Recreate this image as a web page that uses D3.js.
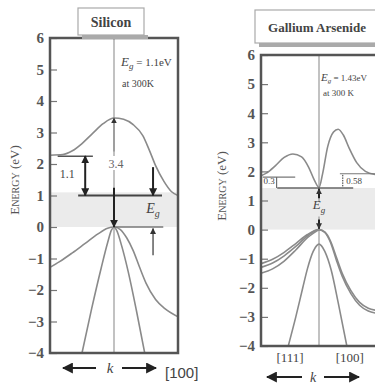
<!DOCTYPE html>
<html><head><meta charset="utf-8">
<script src="https://cdn.jsdelivr.net/npm/d3@7"></script>
<style>body{margin:0;background:#fff}svg{display:block}</style>
</head><body>
<svg id="c" width="375" height="385"></svg>
<script>
// ---------- data ----------
const energyTicks = [6,5,4,3,2,1,0,-1,-2,-3,-4];
const panelTitles = ["Silicon", "Gallium Arsenide"];
const siEg = 1.1, gaEg = 1.43;
const siConduction = [[-1,2.28],[-0.8,2.3],[-0.65,2.42],[-0.5,2.65],[-0.33,2.98],[-0.17,3.28],[0,3.46],[0.15,3.42],[0.3,3.25],[0.45,2.9],[0.55,2.45],[0.65,1.95],[0.78,1.45],[0.9,1.12],[1,1.0]];
const siHeavyHole = [[-1,-1.28],[-0.85,-1.1],[-0.65,-0.82],[-0.45,-0.52],[-0.25,-0.22],[-0.1,-0.04],[0,0],[0.1,-0.08],[0.2,-0.35],[0.3,-0.75],[0.4,-1.28],[0.5,-1.78],[0.65,-2.3],[0.8,-2.6],[1,-2.85]];
const siLightHole = [[-0.5,-4],[-0.35,-2.6],[-0.2,-1.3],[-0.1,-0.5],[-0.04,-0.1],[0,0],[0.04,-0.1],[0.12,-0.6],[0.22,-1.4],[0.35,-2.65],[0.48,-4]];
const gaConduction = [[-1,1.85],[-0.9,1.95],[-0.75,2.2],[-0.6,2.48],[-0.45,2.6],[-0.3,2.5],[-0.18,2.15],[-0.08,1.7],[0,1.45],[0.06,1.9],[0.15,2.85],[0.25,3.35],[0.33,3.45],[0.42,3.25],[0.52,2.8],[0.65,2.3],[0.8,2.0],[1,1.88]];
const gaHoleA = [[-1,-1.17],[-0.8,-1.02],[-0.6,-0.78],[-0.4,-0.48],[-0.2,-0.17],[0,0],[0.1,-0.08],[0.2,-0.4],[0.3,-0.95],[0.4,-1.5],[0.55,-2.1],[0.7,-2.5],[0.85,-2.7],[1,-2.78]];
const gaHoleB = [[-1,-1.3],[-0.8,-1.15],[-0.6,-0.9],[-0.4,-0.58],[-0.2,-0.22],[0,0],[0.1,-0.1],[0.2,-0.45],[0.3,-1.05],[0.4,-1.6],[0.55,-2.2],[0.7,-2.6],[0.85,-2.8],[1,-2.88]];
const gaHoleC = [[-1,-1.5],[-0.8,-1.35],[-0.6,-1.08],[-0.4,-0.7],[-0.2,-0.28],[0,0]];
const gaSplitOff = [[-0.53,-4],[-0.4,-3.0],[-0.28,-2.0],[-0.2,-1.35],[-0.1,-0.75],[-0.04,-0.55],[0,-0.5],[0.04,-0.55],[0.1,-0.75],[0.21,-1.39],[0.33,-2.5],[0.48,-4]];
const gaDirections = ["[111]", "[100]"];

// ---------- setup ----------
const svg = d3.select("#c");
const defs = svg.append("defs");
function marker(id, size, color){
  defs.append("marker").attr("id", id).attr("viewBox","0 0 10 10").attr("refX",9).attr("refY",5)
    .attr("markerWidth",size).attr("markerHeight",size).attr("markerUnits","userSpaceOnUse")
    .attr("orient","auto-start-reverse")
    .append("path").attr("d","M0,0L10,5L0,10Z").attr("fill",color);
}
marker("ah", 8, "#222");
marker("ahs", 6, "#333");
marker("ahk", 11, "#222");

const serif = "'Liberation Serif','DejaVu Serif',serif";
const curveGray = "#8a8a8a";
const textGray = "#444";

function panel(cfg){
  const x = d3.scaleLinear().domain([-1,1]).range(cfg.xr);
  const y = d3.scaleLinear().domain([-4,6]).range(cfg.yr);
  const g = svg.append("g");
  const clipId = "clip" + cfg.id;
  defs.append("clipPath").attr("id", clipId).append("rect")
    .attr("x", cfg.xr[0]).attr("y", cfg.yr[1]).attr("width", cfg.xr[1]-cfg.xr[0]).attr("height", cfg.yr[0]-cfg.yr[1]);
  g.append("rect").attr("x", cfg.xr[0]).attr("width", cfg.xr[1]-cfg.xr[0])
    .attr("y", y(cfg.eg)).attr("height", y(0)-y(cfg.eg)).attr("fill","#ebebeb");
  g.append("line").attr("x1", x(0)).attr("x2", x(0)).attr("y1", cfg.yr[1]).attr("y2", cfg.yr[0])
    .attr("stroke","#999").attr("stroke-width",1.2);
  const line = d3.line().x(d=>x(d[0])).y(d=>y(d[1])).curve(d3.curveMonotoneX);
  const cg = g.append("g").attr("clip-path", `url(#${clipId})`);
  cfg.curves.forEach(c => cg.append("path").attr("d", line(c)).attr("fill","none")
    .attr("stroke", curveGray).attr("stroke-width",1.6));
  const ax = d3.axisLeft(y).tickValues(energyTicks).tickSizeInner(-7).tickSizeOuter(0).tickPadding(6);
  const axg = g.append("g").attr("transform", `translate(${cfg.xr[0]},0)`).call(ax);
  axg.select(".domain").remove();
  axg.selectAll(".tick line").attr("stroke","#777").attr("stroke-width",1.2);
  axg.selectAll(".tick text").attr("font-family", serif).attr("font-size", 15).attr("font-weight","bold").attr("fill","#555");
  g.append("rect").attr("x", cfg.xr[0]).attr("y", cfg.yr[1]).attr("width", cfg.xr[1]-cfg.xr[0]).attr("height", cfg.yr[0]-cfg.yr[1])
    .attr("fill","none").attr("stroke","#555").attr("stroke-width",2.5);
  const yl = g.append("text").attr("transform", `translate(${cfg.ylx},${cfg.yly}) rotate(-90)`)
    .attr("text-anchor","middle").attr("font-family", serif).attr("fill","#555");
  yl.append("tspan").attr("font-size",13).text("E");
  yl.append("tspan").attr("font-size",10).text("NERGY");
  yl.append("tspan").attr("font-size",13).text(" (eV)");
  const t = cfg.title;
  g.append("rect").attr("x", t.x+4).attr("y", t.y+t.h).attr("width", t.w).attr("height", 4).attr("fill","#aaa");
  g.append("rect").attr("x", t.x).attr("y", t.y).attr("width", t.w).attr("height", t.h)
    .attr("fill","#fff").attr("stroke","#aaa").attr("stroke-width",1.2);
  g.append("text").attr("x", t.cx).attr("y", t.y + t.h/2 + 5).attr("text-anchor","middle")
    .attr("font-family", serif).attr("font-size", t.fs).attr("font-weight", t.fw).attr("fill", textGray).text(t.text);
  return {x, y, g};
}

// ---------- Silicon ----------
const si = panel({id:"si", xr:[50,178], yr:[353,38], eg:siEg,
  curves:[siConduction, siHeavyHole, siLightHole], ylx:19, yly:180,
  title:{x:78, y:8, w:66, h:27, cx:111, text:panelTitles[0], fs:14, fw:"bold"}});
{
  const {x, y, g} = si;
  const dark = "#222";
  g.append("line").attr("x1", x(-0.56)).attr("x2", x(0.75)).attr("y1", y(1.0)).attr("y2", y(1.0)).attr("stroke", "#444").attr("stroke-width", 2);
  g.append("line").attr("x1", x(-0.88)).attr("x2", x(-0.33)).attr("y1", y(2.25)).attr("y2", y(2.25)).attr("stroke", "#555").attr("stroke-width", 1.5);
  g.append("line").attr("x1", x(0)).attr("x2", x(0.77)).attr("y1", y(0)).attr("y2", y(0)).attr("stroke", "#777").attr("stroke-width", 1.5);
  g.append("line").attr("x1", x(-0.45)).attr("x2", x(-0.45)).attr("y1", y(1.0)).attr("y2", y(2.25))
    .attr("stroke", dark).attr("stroke-width", 2).attr("marker-start","url(#ah)").attr("marker-end","url(#ah)");
  g.append("text").attr("x", x(-0.73)).attr("y", y(1.55)).attr("text-anchor","middle").attr("font-family", serif).attr("font-size", 12).attr("fill", textGray).text("1.1");
  g.append("line").attr("x1", x(0)).attr("x2", x(0)).attr("y1", y(2.4)).attr("y2", y(3.46))
    .attr("stroke", "#888").attr("stroke-width", 1.2).attr("marker-end","url(#ahs)");
  g.append("rect").attr("x", x(0)-9).attr("y", y(2.0)-8).attr("width", 18).attr("height", 14).attr("fill","#fff");
  g.append("text").attr("x", x(0)+2).attr("y", y(2.0)+4).attr("text-anchor","middle").attr("font-family", serif).attr("font-size", 12).attr("fill","#666").text("3.4");
  g.append("line").attr("x1", x(0)).attr("x2", x(0)).attr("y1", y(1.25)).attr("y2", y(0))
    .attr("stroke", dark).attr("stroke-width", 2).attr("marker-end","url(#ah)");
  g.append("line").attr("x1", x(0.61)).attr("x2", x(0.61)).attr("y1", y(1.9)).attr("y2", y(1.0))
    .attr("stroke", dark).attr("stroke-width", 2).attr("marker-end","url(#ah)");
  g.append("line").attr("x1", x(0.61)).attr("x2", x(0.61)).attr("y1", y(-0.9)).attr("y2", y(-0.05))
    .attr("stroke", "#444").attr("stroke-width", 1.3).attr("marker-end","url(#ahs)");
  const eg = g.append("text").attr("x", x(0.61)).attr("y", y(0.45)).attr("text-anchor","middle").attr("font-family", serif).attr("font-style","italic").attr("fill", textGray);
  eg.append("tspan").attr("font-size", 14).text("E");
  eg.append("tspan").attr("font-size", 10).attr("dy", 4).text("g");
  const t1 = g.append("text").attr("x", 121).attr("y", 66).attr("font-family", serif).attr("fill", textGray).attr("font-size", 11);
  t1.append("tspan").attr("font-style","italic").attr("font-size", 13).text("E");
  t1.append("tspan").attr("font-style","italic").attr("font-size", 9).attr("dy", 3).text("g");
  t1.append("tspan").attr("dy", -3).text(" = " + siEg + "eV");
  g.append("text").attr("x", 122).attr("y", 87).attr("font-family", serif).attr("font-size", 10).attr("fill", textGray).text("at 300K");
  const ky = 368;
  g.append("line").attr("x1", 96).attr("x2", 63).attr("y1", ky).attr("y2", ky).attr("stroke", dark).attr("stroke-width", 2).attr("marker-end","url(#ahk)");
  g.append("line").attr("x1", 122).attr("x2", 156).attr("y1", ky).attr("y2", ky).attr("stroke", dark).attr("stroke-width", 2).attr("marker-end","url(#ahk)");
  g.append("text").attr("x", 110).attr("y", ky+5).attr("text-anchor","middle").attr("font-family", serif).attr("font-style","italic").attr("font-size", 15).attr("fill", textGray).text("k");
  g.append("text").attr("x", 165).attr("y", 378).attr("font-family","'Liberation Sans',Arial,sans-serif").attr("font-size", 15).attr("fill", textGray).text("[100]");
}

// ---------- GaAs ----------
const ga = panel({id:"ga", xr:[261,377], yr:[346,55], eg:gaEg,
  curves:[gaConduction, gaHoleA, gaHoleB, gaHoleC, gaSplitOff], ylx:226, yly:186,
  title:{x:255, y:10, w:130, h:33, cx:317, text:panelTitles[1], fs:13, fw:"bold"}});
{
  const {x, y, g} = ga;
  const dark = "#222";
  g.append("line").attr("x1", x(-0.72)).attr("x2", x(0.59)).attr("y1", y(gaEg)).attr("y2", y(gaEg)).attr("stroke", "#666").attr("stroke-width", 1.3);
  g.append("line").attr("x1", x(-0.97)).attr("x2", x(-0.41)).attr("y1", y(1.8)).attr("y2", y(1.8)).attr("stroke", "#777").attr("stroke-width", 1.2);
  g.append("line").attr("x1", x(0.36)).attr("x2", x(1)).attr("y1", y(1.92)).attr("y2", y(1.92)).attr("stroke", "#777").attr("stroke-width", 1.2);
  g.append("line").attr("x1", x(-0.73)).attr("x2", x(-0.73)).attr("y1", y(1.8)).attr("y2", y(gaEg)).attr("stroke", "#555").attr("stroke-width", 1);
  g.append("text").attr("x", x(-0.86)).attr("y", y(1.55)).attr("text-anchor","middle").attr("font-family", serif).attr("font-size", 9).attr("fill", textGray).text("0.3");
  g.append("line").attr("x1", x(0.41)).attr("x2", x(0.41)).attr("y1", y(1.88)).attr("y2", y(1.47))
    .attr("stroke", "#333").attr("stroke-width", 1).attr("stroke-dasharray","1.5,1");
  g.append("text").attr("x", x(0.47)).attr("y", y(1.55)).attr("font-family", serif).attr("font-size", 9).attr("fill", textGray).text("0.58");
  g.append("line").attr("x1", x(0)).attr("x2", x(0)).attr("y1", y(1.08)).attr("y2", y(1.4))
    .attr("stroke", dark).attr("stroke-width", 2).attr("marker-end","url(#ahs)");
  g.append("line").attr("x1", x(0)).attr("x2", x(0)).attr("y1", y(0.35)).attr("y2", y(0.03))
    .attr("stroke", dark).attr("stroke-width", 2).attr("marker-end","url(#ahs)");
  g.append("rect").attr("x", x(0)-8).attr("y", y(0.95)).attr("width", 16).attr("height", y(0.45)-y(0.95)).attr("fill","#ebebeb");
  const eg = g.append("text").attr("x", x(0)).attr("y", y(0.72)).attr("text-anchor","middle").attr("font-family", serif).attr("font-style","italic").attr("fill", textGray);
  eg.append("tspan").attr("font-size", 13).text("E");
  eg.append("tspan").attr("font-size", 9).attr("dy", 4).text("g");
  g.append("rect").attr("x", 321).attr("y", 71).attr("width", 56).attr("height", 28).attr("fill","#fff");
  const t1 = g.append("text").attr("x", 321).attr("y", 81).attr("font-family", serif).attr("fill", textGray).attr("font-size", 9);
  t1.append("tspan").attr("font-style","italic").attr("font-size", 11).text("E");
  t1.append("tspan").attr("font-style","italic").attr("font-size", 7).attr("dy", 2).text("g");
  t1.append("tspan").attr("dy", -2).text(" = " + gaEg + "eV");
  g.append("text").attr("x", 323).attr("y", 96).attr("font-family", serif).attr("font-size", 9).attr("fill", textGray).text("at 300 K");
  g.append("text").attr("x", x(-0.5)).attr("y", 362).attr("text-anchor","middle").attr("font-family", serif).attr("font-size", 13).attr("fill", textGray).text(gaDirections[0]);
  g.append("text").attr("x", x(0.53)).attr("y", 362).attr("text-anchor","middle").attr("font-family", serif).attr("font-size", 13).attr("fill", textGray).text(gaDirections[1]);
  const ky = 377;
  g.append("line").attr("x1", 302).attr("x2", 267).attr("y1", ky).attr("y2", ky).attr("stroke", dark).attr("stroke-width", 2).attr("marker-end","url(#ahk)");
  g.append("line").attr("x1", 324).attr("x2", 359).attr("y1", ky).attr("y2", ky).attr("stroke", dark).attr("stroke-width", 2).attr("marker-end","url(#ahk)");
  g.append("text").attr("x", 313).attr("y", ky+5).attr("text-anchor","middle").attr("font-family", serif).attr("font-style","italic").attr("font-size", 14).attr("fill", textGray).text("k");
}
</script>
</body></html>
